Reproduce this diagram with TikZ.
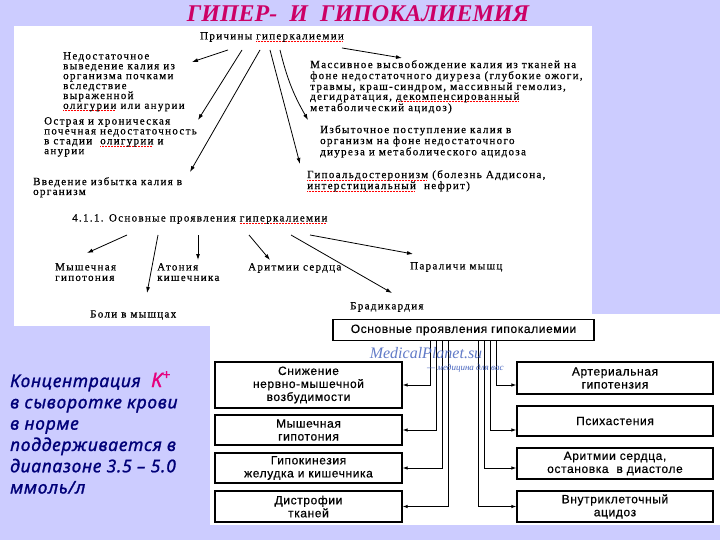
\documentclass[tikz,border=0pt]{standalone}
\usepackage{fontspec}
\setmainfont{Liberation Serif}
\setsansfont{Liberation Sans}
\newfontfamily\scanfont[LetterSpace=12,FakeBold=0.6]{Liberation Serif}
\newfontfamily\boxfont[LetterSpace=5,FakeBold=0.6]{Liberation Sans}
\newfontfamily\notefont[LetterSpace=4,FakeBold=1.2]{Noto Sans}
\usetikzlibrary{arrows.meta}
\definecolor{lavender}{RGB}{204,204,255}
\definecolor{titlepink}{RGB}{204,0,102}
\definecolor{kpink}{RGB}{230,0,126}
\definecolor{notenavy}{RGB}{0,0,120}
\definecolor{wmblue}{RGB}{70,100,190}
\newsavebox\spellbox
\newcommand\spell[1]{\sbox\spellbox{#1}\rlap{\color{red}\leaders\hbox{\rule[-2pt]{0.9pt}{0.5pt}\kern0.6pt}\hskip\wd\spellbox}\usebox\spellbox}

\begin{document}
\begin{tikzpicture}[x=1pt,y=-1pt,
    cause/.style={font=\scanfont\fontsize{11}{9.9}\selectfont, align=left,
                  inner sep=0pt, anchor=north west},
    sign/.style={font=\scanfont\fontsize{11}{10.5}\selectfont, align=left,
                 inner sep=0pt, anchor=north west},
    hypo/.style={draw, line width=1.2pt, align=center, inner sep=1pt,
                 font=\boxfont\fontsize{12}{13}\selectfont},
    lbox/.style={hypo, minimum width=187pt},
    rbox/.style={hypo, minimum width=196pt},
    ar/.style={-{Latex[length=6pt,width=4pt]}, line width=0.8pt},
    conn/.style={-{Latex[length=5pt,width=3.5pt]}, line width=0.9pt}
]

% Sheet
\fill[lavender] (0,0) rectangle (720,540);
\fill[white] (14,26) rectangle (592,326);
\fill[white] (210,314) rectangle (720,525);
\useasboundingbox (0,0) rectangle (720,540);

\node[font=\bfseries\itshape\fontsize{24}{24}\selectfont, text=titlepink] (title) at (358,14)
    {ГИПЕР-\ \ И\ \ ГИПОКАЛИЕМИЯ};

% Causes of hyperkalemia
\node[font=\scanfont\fontsize{11}{10}\selectfont, inner sep=0pt] (causes) at (272,37)
    {Причины \spell{гиперкалиемии}};

\node[cause] (kidney)  at (63,52)  {Недостаточное\\выведение калия из\\организма почками\\вследствие\\выраженной\\\spell{олигурии} или анурии};
\node[cause] (renal)   at (44,117) {Острая и хроническая\\почечная недостаточность\\в стадии\ \ \spell{олигурии} и\\анурии};
\node[cause] (intake)  at (33,177) {Введение избытка калия в\\организм};
\node[cause] (release) at (310,60) {Массивное высвобождение калия из тканей на\\фоне недостаточного диуреза (глубокие ожоги,\\травмы, краш-синдром, массивный гемолиз,\\дегидратация, \spell{декомпенсированный}\\метаболический ацидоз)};
\node[cause] (excess)  at (320,125) {Избыточное поступление калия в\\организм на фоне недостаточного\\диуреза и метаболического ацидоза};
\node[cause] (aldo)    at (307,170) {\spell{Гипоальдостеронизм} (болезнь Аддисона,\\\spell{интерстициальный}\ \ нефрит)};

\draw[ar] ([shift={(-44,8)}]causes.south) -- ([shift={(129,10)}]kidney.north west);
\draw[ar] ([shift={(-30,8)}]causes.south) -- ([shift={(154,3)}]renal.north west);
\draw[ar] ([shift={(-12,8)}]causes.south) -- ([shift={(157,-5)}]intake.north west);
\draw[ar] ([shift={(-2,8)}]causes.south)  -- ([shift={(-7,-6)}]aldo.north west);
\draw[ar] ([shift={(8,8)}]causes.south) to[bend right=8] ([shift={(-12,-5)}]excess.north west);
\draw[ar] ([shift={(70,6)}]causes.south)  -- ([shift={(92,-2)}]release.north west);

% Signs of hyperkalemia
\node[sign, anchor=west] (hyperk) at (72,219) {4.1.1. Основные проявления \spell{гиперкалиемии}};
\node[sign] (musc)  at (55,263)  {Мышечная\\гипотония};
\node[sign] (atony) at (157,263) {Атония\\кишечника};
\node[sign, anchor=west] (arrh)  at (248,268) {Аритмии сердца};
\node[sign, anchor=west] (paral) at (410,267) {Параличи мышц};
\node[sign, anchor=west] (pain)  at (90,315)  {Боли в мышцах};
\node[sign, anchor=west] (brady) at (350,307) {Брадикардия};

\draw[ar] ([shift={(55,16)}]hyperk.west)  -- ([shift={(32,-10)}]musc.north west);
\draw[ar] ([shift={(86,16)}]hyperk.west)  -- ([shift={(57,-22)}]pain.west);
\draw[ar] ([shift={(126,16)}]hyperk.west) -- ([shift={(41,-3)}]atony.north west);
\draw[ar] ([shift={(177,16)}]hyperk.west) -- ([shift={(22,-8)}]arrh.west);
\draw[ar] ([shift={(219,16)}]hyperk.west) -- ([shift={(42,-14)}]brady.west);
\draw[ar] ([shift={(238,16)}]hyperk.west) -- ([shift={(3,-13)}]paral.west);

% Signs of hypokalemia
\node[hypo, minimum width=261pt, minimum height=21pt] (hypok) at (463.5,330) {Основные проявления гипокалиемии};

\node[lbox, minimum height=46pt] (excit) at (308.5,385)   {Снижение\\нервно-мышечной\\возбудимости};
\node[lbox, minimum height=30pt] (tone)  at (308.5,430)   {Мышечная\\гипотония};
\node[lbox, minimum height=30pt] (gut)   at (308.5,468)   {Гипокинезия\\желудка и кишечника};
\node[lbox, minimum height=31pt] (dystr) at (308.5,506.5) {Дистрофии\\тканей};

\node[rbox, minimum height=32pt] (press) at (615,378)   {Артериальная\\гипотензия};
\node[rbox, minimum height=30pt] (psych) at (615,421)   {Психастения};
\node[rbox, minimum height=31pt] (heart) at (615,463.5) {Аритмии сердца,\\остановка\ \ в диастоле};
\node[rbox, minimum height=31pt] (acid)  at (615,506.5) {Внутриклеточный\\ацидоз};

\foreach \b/\dx in {excit/-33, tone/-27, gut/-21, dystr/-15}
    \draw[conn] ([xshift=\dx pt]hypok.south) |- (\b.east);
\foreach \b/\l/\dx in {press/excit/33, psych/tone/27, heart/gut/21, acid/dystr/15}
    \draw[conn] ([xshift=\dx pt]hypok.south) |- (\b.west |- \l.east);

\node[font=\itshape\fontsize{16}{16}\selectfont, text=wmblue, opacity=0.85] (wmark) at (426,353) {MedicalPlanet.su};
\node[font=\itshape\fontsize{9}{9}\selectfont, text=wmblue, anchor=west, inner sep=0pt] (wmsub) at (427,368) {— медицина для вас};

% Normal level
\node[font=\notefont\bfseries\itshape\fontsize{17.5}{21.3}\selectfont, text=notenavy, align=left,
      anchor=north west, inner sep=0pt] (norm) at (10,371)
    {Концентрация\ \ {\color{kpink}\fontsize{20}{20}\selectfont K\textsuperscript{+}}\\в сыворотке крови\\в норме\\поддерживается в\\диапазоне 3.5 – 5.0\\ммоль/л};

\end{tikzpicture}
\end{document}
